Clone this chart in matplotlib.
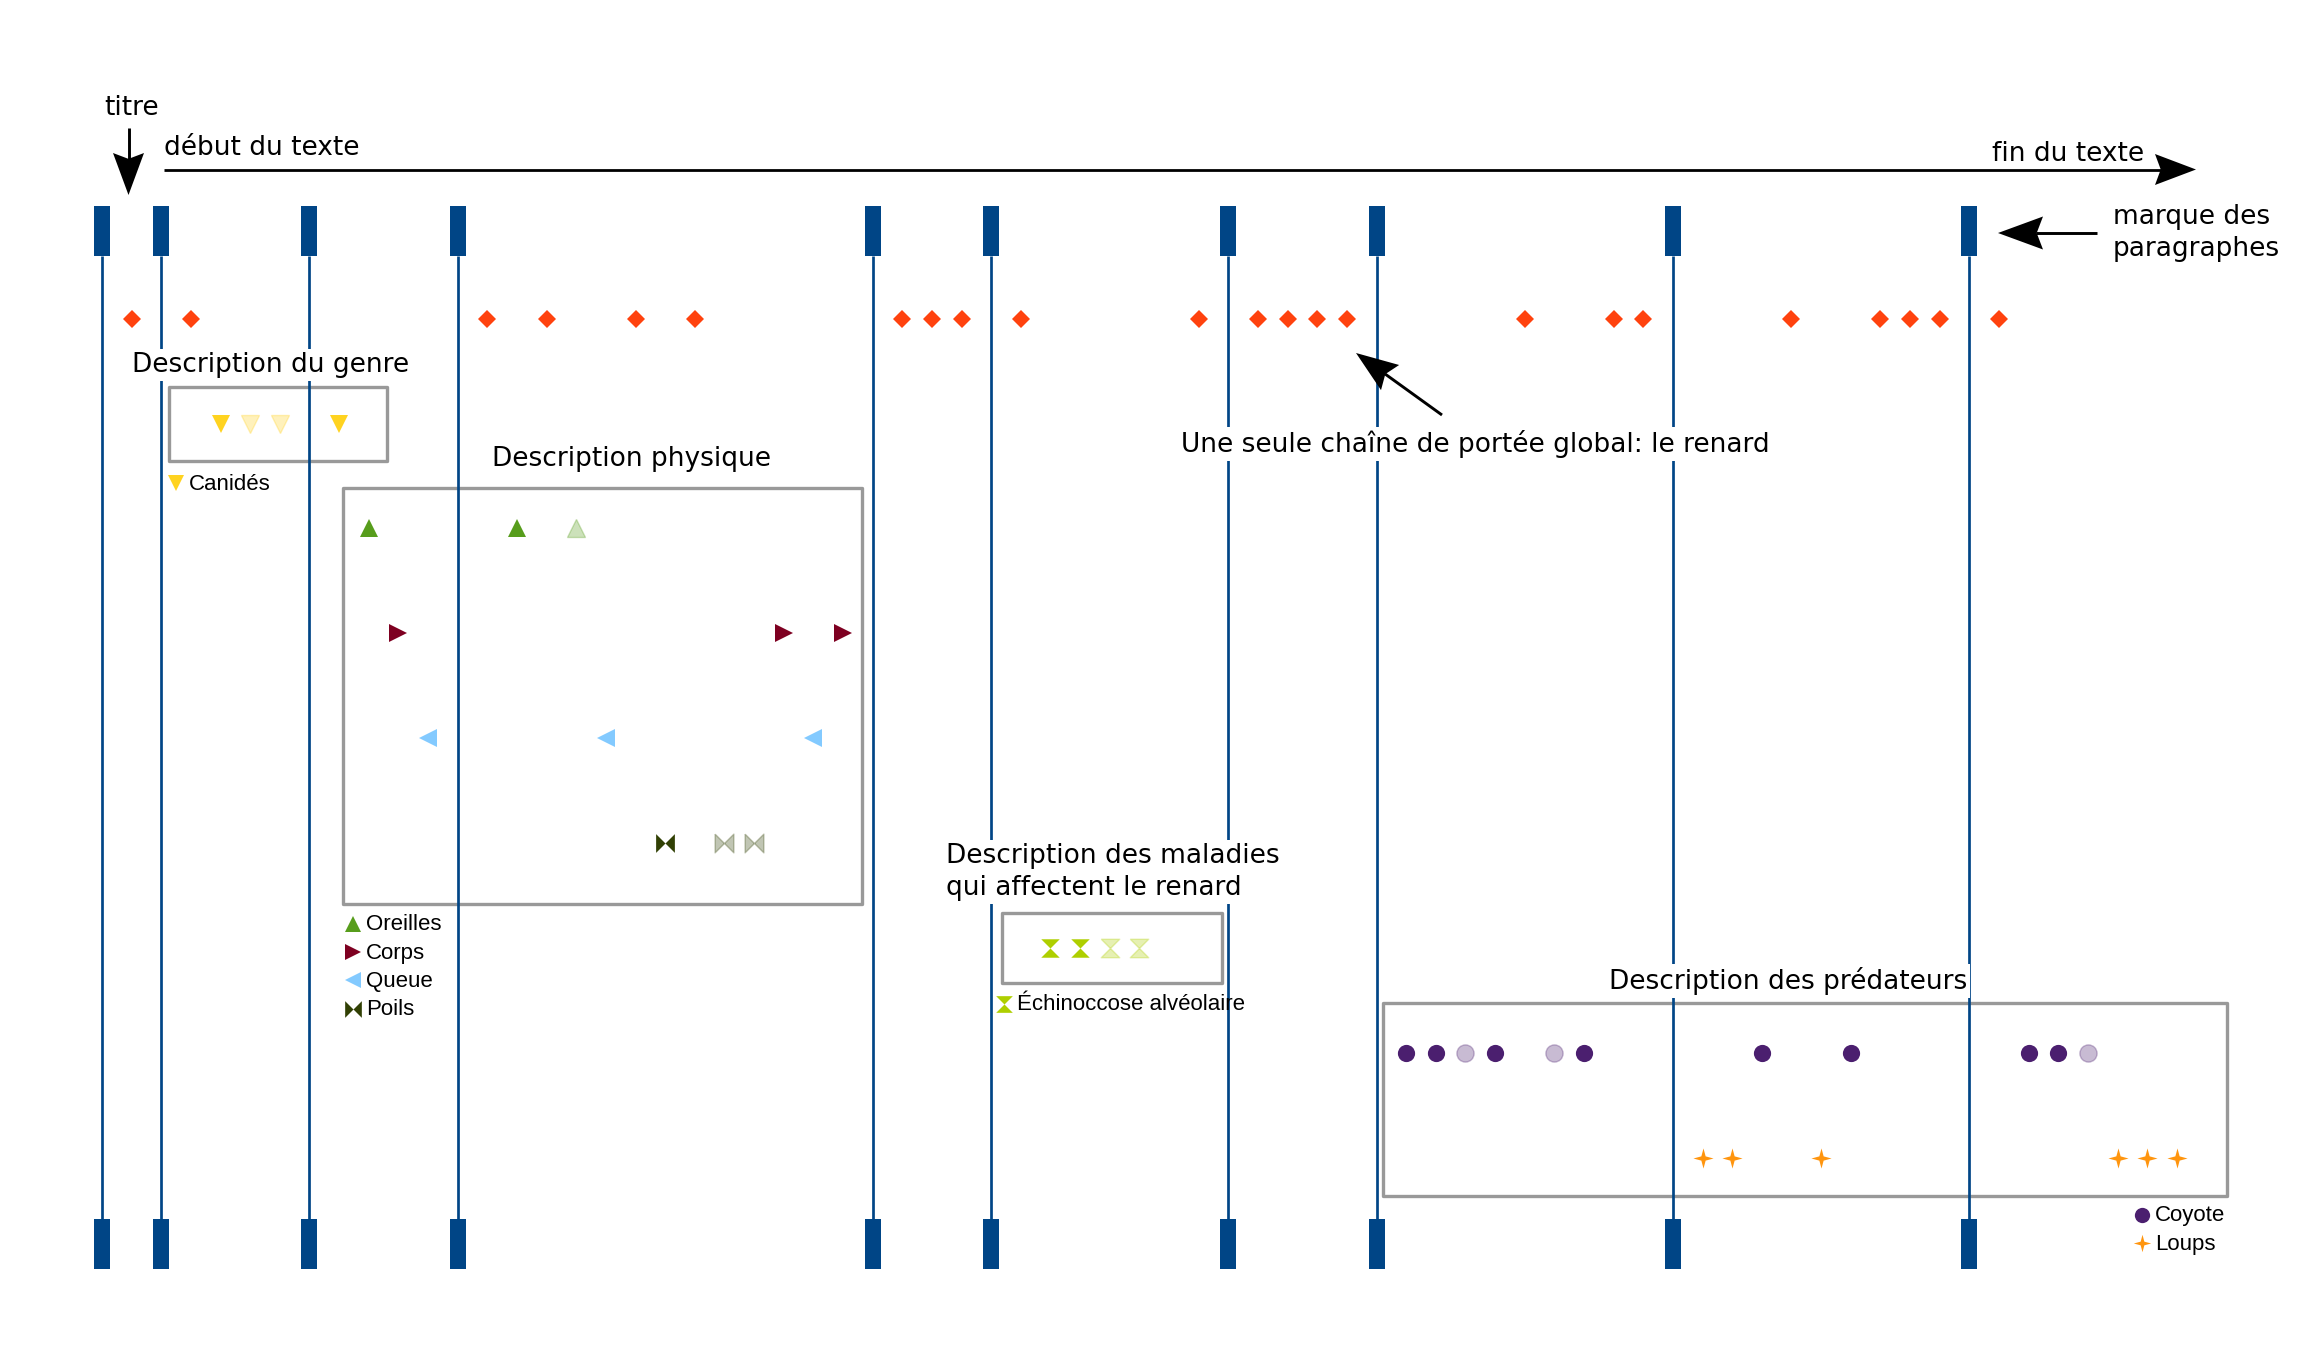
import matplotlib.pyplot as plt
import numpy as np
from matplotlib.path import Path
from matplotlib.patches import Rectangle, Polygon
from matplotlib.transforms import Affine2D

W, H = 2324, 1364

# positions in the text (token index) of each mark
paragraphes = [0, 2, 7, 12, 26, 30, 38, 43, 53, 63]
renard = [1, 3, 13, 15, 18, 20, 27, 28, 29, 31, 37, 39, 40, 41, 42, 48, 51, 52, 57, 60, 61, 62, 64]
canides = [4, 5, 6, 8]
canides_pale = [0, 1, 1, 0]
oreilles = [9, 14, 16]
oreilles_pale = [0, 0, 1]
corps = [10, 23, 25]
corps_pale = [0, 0, 0]
queue = [11, 17, 24]
queue_pale = [0, 0, 0]
poils = [19, 21, 22]
poils_pale = [0, 1, 1]
echino = [32, 33, 34, 35]
echino_pale = [0, 0, 1, 1]
coyote = [44, 45, 46, 47, 49, 50, 56, 59, 65, 66, 67]
coyote_pale = [0, 0, 1, 0, 1, 0, 0, 0, 0, 0, 1]
loups = [54, 55, 58, 68, 69, 70]
loups_pale = [0, 0, 0, 0, 0, 0]

blue = '#004586'
bowtie = [(-1, 1), (0, 0), (1, 1), (1, -1), (0, 0), (-1, -1), (-1, 1)]
hourglass = [(-1, 1), (1, 1), (0, 0), (1, -1), (-1, -1), (0, 0), (-1, 1)]
star4 = Path.unit_regular_star(4, 0.3)

# (positions, faded flags, row, marker, colour, size)
series = [
    (renard, [0] * len(renard), 0, 'D', '#ff420e', 8.9),
    (canides, canides_pale, 1, 'v', '#ffd320', 12.8),
    (oreilles, oreilles_pale, 2, '^', '#579d1c', 12.8),
    (corps, corps_pale, 3, '>', '#7e0021', 12.8),
    (queue, queue_pale, 4, '<', '#83caff', 12.8),
    (poils, poils_pale, 5, bowtie, '#314004', 13.5),
    (echino, echino_pale, 6, hourglass, '#aecf00', 13.3),
    (coyote, coyote_pale, 7, 'o', '#4b1f6f', 12.4),
    (loups, loups_pale, 8, star4, '#ff950e', 14.5),
]

X0, DX = 102, 29.64
Y0, DY = 318.6, 104.9
def row(y):
    return (y - Y0) / DY

fig = plt.figure(figsize=(W / 100, H / 100), dpi=100)
ax = fig.add_axes([0, 0, 1, 1])
ax.set_xlim((0 - X0) / DX, (W - X0) / DX)
ax.set_ylim(row(H), row(0))
ax.axis('off')
pix = Affine2D().translate(-X0, -Y0).scale(1 / DX, 1 / DY) + ax.transData

# paragraph lines and marks
ax.vlines(paragraphes, row(256), row(1219), color=blue, lw=1.95, zorder=2)
ax.bar(paragraphes, 50 / DY, bottom=row(206), width=16 / DX, color=blue, zorder=2)
ax.bar(paragraphes, 50 / DY, bottom=row(1219), width=16 / DX, color=blue, zorder=2)

for pos, pale, r, m, c, s in series:
    pos = np.array(pos)
    pale = np.array(pale, dtype=bool)
    ax.plot(pos[~pale], [r] * (~pale).sum(), ls='none', marker=m, ms=s, color=c, mew=0, zorder=3)
    if pale.any():
        ax.plot(pos[pale], [r] * pale.sum(), ls='none', marker=m, ms=s, mfc=c, mec=c,
                alpha=0.3, mew=1, zorder=3)

# boxes
for x0, y0, x1, y1 in [(169, 387, 387, 461), (343, 488, 862, 904),
                       (1002, 913, 1222, 983), (1383, 1003, 2227, 1196)]:
    ax.add_patch(Rectangle((x0, y0), x1 - x0, y1 - y0, transform=pix, fill=False,
                           ec='#999999', lw=2.4, zorder=1, joinstyle='round'))

main = dict(fontsize=19, family='DejaVu Sans', transform=pix, zorder=5, va='baseline')
wbg = dict(facecolor='white', edgecolor='none', pad=2)
ax.text(104, 115, 'titre', **main)
ax.text(164, 155, 'début du texte', **main)
ax.text(1992, 161, 'fin du texte', **main)
ax.text(2113, 224, 'marque des', **main)
ax.text(2113, 256, 'paragraphes', **main)
ax.text(132, 372, 'Description du genre', bbox=wbg, **main)
ax.text(492, 466, 'Description physique', bbox=wbg, **main)
ax.text(946, 863, 'Description des maladies', bbox=wbg, **main)
ax.text(946, 895, 'qui affectent le renard', bbox=wbg, **main)
ax.text(1609, 989, 'Description des prédateurs', bbox=wbg, **main)
ax.text(1181, 452, 'Une seule chaîne de portée global: le renard', bbox=wbg, **main)

# legends
legends = [
    (176, 484, ['Canidés'], [('v', '#ffd320', 11.5)]),
    (353, 925, ['Oreilles', 'Corps', 'Queue', 'Poils'],
     [('^', '#579d1c', 11.5), ('>', '#7e0021', 11.5), ('<', '#83caff', 11.5), (bowtie, '#314004', 12)]),
    (1004, 1005, ['Échinoccose alvéolaire'], [(hourglass, '#aecf00', 12)]),
    (2142, 1216, ['Coyote', 'Loups'], [('o', '#4b1f6f', 11), (star4, '#ff950e', 12.5)]),
]
for lx, ly, labels, marks in legends:
    for i, (lab, (m, c, s)) in enumerate(zip(labels, marks)):
        yy = ly + i * 28.2
        ax.plot([lx], [yy - 1], ls='none', marker=m, ms=s, color=c, mew=0, transform=pix, zorder=3)
        ax.text(lx + 13, yy, lab, fontsize=16, family='Liberation Sans', transform=pix,
                va='center', ha='left', zorder=5)

def arrow(x0, y0, x1, y1, L=42, hw=15.5, lw=2.1):
    d = np.array([x1 - x0, y1 - y0], float)
    u = d / np.hypot(*d)
    n = np.array([-u[1], u[0]])
    tip = np.array([x1, y1], float)
    base = tip - 0.85 * L * u
    ax.plot([x0, base[0]], [y0, base[1]], color='black', lw=lw, transform=pix,
            solid_capstyle='butt', zorder=4)
    pts = [tip, tip - L * u + hw * n, tip - 0.86 * L * u, tip - L * u - hw * n]
    ax.add_patch(Polygon(pts, closed=True, color='black', transform=pix, zorder=4, lw=0))

arrow(128.5, 128, 128.5, 195)
arrow(164, 169.5, 2196, 169.5, L=41, lw=2.0)
arrow(2097, 233, 1998, 233, L=45, hw=16.5)
arrow(1442, 415, 1356, 353)

fig.savefig('out.png', dpi=100)
